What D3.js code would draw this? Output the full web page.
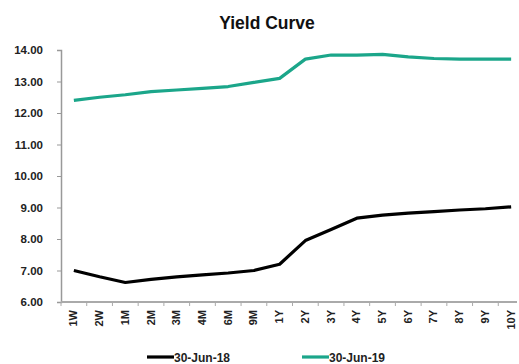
<!DOCTYPE html>
<html>
<head>
<meta charset="utf-8">
<script src="https://cdn.jsdelivr.net/npm/d3@7"></script>
<style>
  html, body { margin: 0; padding: 0; background: #fff; }
  svg { display: block; font-family: "Liberation Sans", Arial, sans-serif; }
</style>
</head>
<body>
<svg id="chart" width="519" height="364"></svg>
<script>
// Tenors along the curve
const tenors = ["1W","2W","1M","2M","3M","4M","6M","9M","1Y","2Y","3Y","4Y","5Y","6Y","7Y","8Y","9Y","10Y"];
// Yields (%) at each tenor
const yields2018 = [7.00, 6.80, 6.62, 6.72, 6.80, 6.86, 6.92, 7.00, 7.20, 7.95, 8.30, 8.66, 8.76, 8.82, 8.87, 8.92, 8.96, 9.02];
const yields2019 = [12.40, 12.50, 12.58, 12.68, 12.73, 12.78, 12.84, 12.97, 13.10, 13.71, 13.84, 13.84, 13.86, 13.78, 13.73, 13.71, 13.71, 13.71];
const seriesNames = ["30-Jun-18", "30-Jun-19"];
const yTicks = [6, 7, 8, 9, 10, 11, 12, 13, 14];

const colors = ["#000000", "#1ba68a"];
const svg = d3.select("#chart");

const plot = { left: 61, right: 524, top: 50, bottom: 302 };

const x = d3.scaleBand().domain(tenors).range([plot.left, plot.right]);
const y = d3.scaleLinear().domain([6, 14]).range([plot.bottom, plot.top]);

// Title
svg.append("text")
  .attr("x", 267).attr("y", 29)
  .attr("text-anchor", "middle")
  .attr("font-size", 17.5).attr("font-weight", "bold")
  .attr("fill", "#111")
  .text("Yield Curve");

// Y axis
const yAxis = svg.append("g")
  .attr("transform", `translate(${plot.left},0)`)
  .call(d3.axisLeft(y).tickValues(yTicks).tickFormat(d3.format(".2f")).tickSizeOuter(0).tickSize(4).tickPadding(14));
yAxis.select(".domain").attr("stroke", "#999").attr("stroke-width", 1.5);
yAxis.selectAll(".tick line").attr("stroke", "#999");
yAxis.selectAll(".tick text")
  .attr("font-size", 11.5).attr("font-weight", "bold").attr("fill", "#222")
  .attr("font-family", "'Liberation Sans', Arial, sans-serif");

// X axis line and ticks at band boundaries
const xg = svg.append("g");
xg.append("line")
  .attr("x1", plot.left).attr("x2", 517)
  .attr("y1", plot.bottom).attr("y2", plot.bottom)
  .attr("stroke", "#aaa").attr("stroke-width", 2);
xg.selectAll("line.tk")
  .data(tenors)
  .join("line")
  .attr("class", "tk")
  .attr("x1", d => x(d)).attr("x2", d => x(d))
  .attr("y1", plot.bottom).attr("y2", plot.bottom + 4)
  .attr("stroke", "#aaa");

// X labels, rotated to read upward
xg.selectAll("text")
  .data(tenors)
  .join("text")
  .attr("transform", d => `translate(${x(d) + x.bandwidth() / 2 + 3.5},${plot.bottom + 8}) rotate(-90)`)
  .attr("text-anchor", "end")
  .attr("font-size", 11).attr("font-weight", "bold").attr("fill", "#222")
  .text(d => d);

// Lines
const line = d3.line()
  .x((d, i) => x(tenors[i]) + x.bandwidth() / 2)
  .y(d => y(d));

[yields2018, yields2019].forEach((vals, i) => {
  svg.append("path")
    .datum(vals)
    .attr("fill", "none")
    .attr("stroke", colors[i])
    .attr("stroke-width", 3.2)
    .attr("stroke-linejoin", "round")
    .attr("d", line);
});

// Legend
const legend = [{x: 147}, {x: 302}];
legend.forEach((p, i) => {
  svg.append("line")
    .attr("x1", p.x).attr("x2", p.x + 27)
    .attr("y1", 357).attr("y2", 357)
    .attr("stroke", colors[i]).attr("stroke-width", 3.2);
  svg.append("text")
    .attr("x", p.x + 27).attr("y", 362)
    .attr("font-size", 12).attr("font-weight", "bold").attr("fill", "#222")
    .text(seriesNames[i]);
});
</script>
</body>
</html>
